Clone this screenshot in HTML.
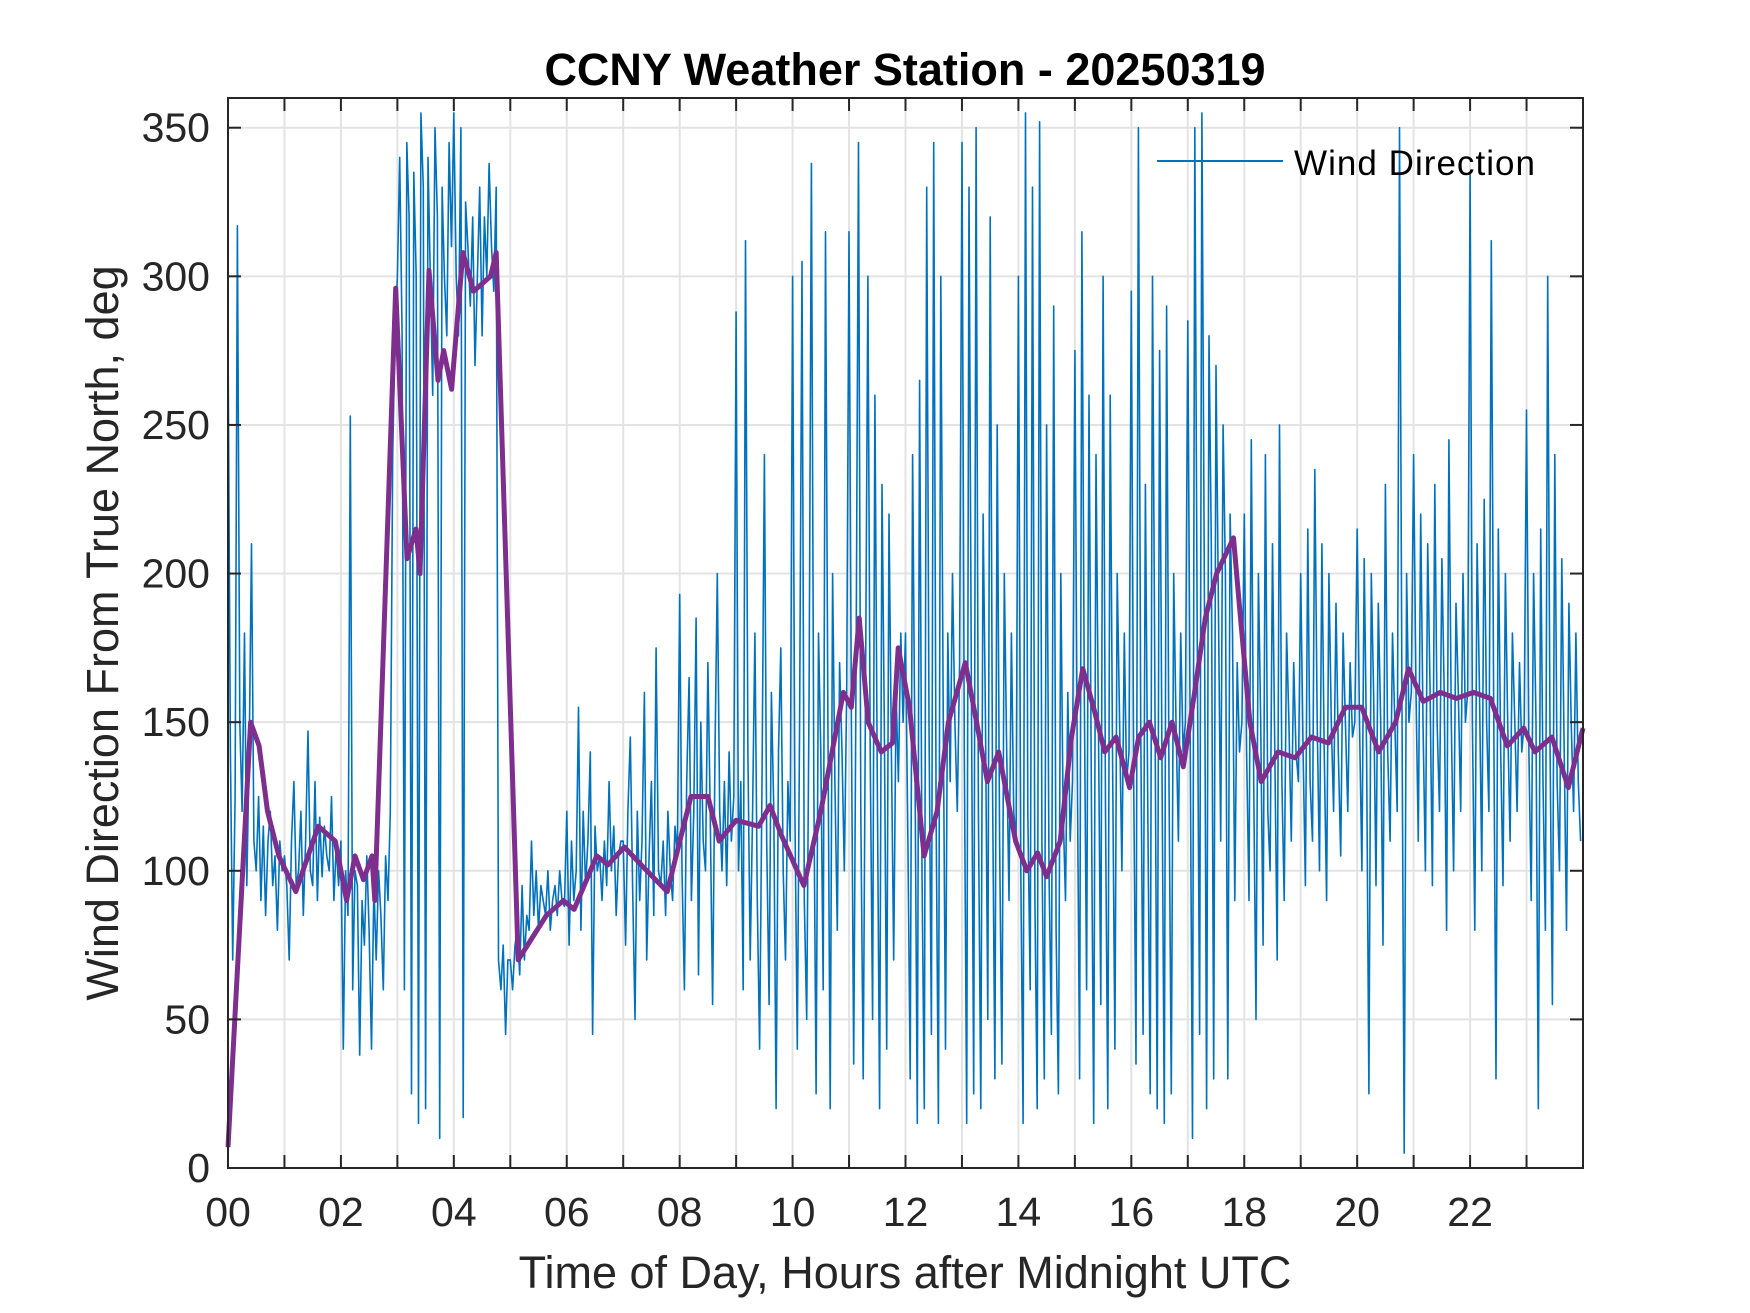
<!DOCTYPE html>
<html><head><meta charset="utf-8"><style>
html,body{margin:0;padding:0;background:#fff;}
svg{display:block;font-family:"Liberation Sans",Arial,sans-serif;}
</style></head><body>
<svg id="chart" width="1750" height="1313" viewBox="0 0 1750 1313">
<rect width="1750" height="1313" fill="#fff"/>
<g id="grid"></g>
<g id="series"></g>
<g id="axes"></g>
<text x="905" y="85" text-anchor="middle" font-size="45" font-weight="bold" fill="#000">CCNY Weather Station - 20250319</text>
<text x="905" y="1288" text-anchor="middle" font-size="45" fill="#262626">Time of Day, Hours after Midnight UTC</text>
<text transform="translate(118,633) rotate(-90)" text-anchor="middle" font-size="45" fill="#262626">Wind Direction From True North, deg</text>
<g>
<line x1="1157" y1="161" x2="1283" y2="161" stroke="#0072BD" stroke-width="2"/>
<text x="1294" y="175" font-size="35" fill="#000" textLength="241">Wind Direction</text>
</g>
</svg>
<script>
const xTicks = [0,1,2,3,4,5,6,7,8,9,10,11,12,13,14,15,16,17,18,19,20,21,22,23,24];
const xTickLabels = ["00","","02","","04","","06","","08","","10","","12","","14","","16","","18","","20","","22","",""];
const yTicks = [0,50,100,150,200,250,300,350];
const yTickLabels = ["0","50","100","150","200","250","300","350"];
// raw wind direction, 24 samples per hour
const windRaw = [
280,140,70,125,317,150,120,180,95,140,210,110,100,125,90,115,85,110,120,95,105,80,110,100,
105,95,70,110,130,95,100,120,85,110,147,100,95,130,90,118,98,115,105,100,125,90,108,95,
110,40,100,85,253,60,100,95,38,90,75,105,80,40,95,70,100,85,60,105,90,120,240,280,
300,340,280,60,345,320,25,335,300,15,355,330,20,340,300,260,350,320,10,330,300,280,345,310,
355,300,280,350,17,325,310,290,320,270,300,330,280,320,300,338,310,295,330,70,60,75,45,70,
70,60,75,80,65,95,70,85,80,110,85,100,80,95,90,85,100,80,90,95,85,100,90,88,
120,75,110,90,100,155,80,120,95,110,140,45,115,100,105,90,110,95,130,100,115,85,105,110,
110,75,120,145,95,50,120,90,110,160,70,105,130,85,175,100,95,110,85,120,100,90,115,105,
193,100,60,130,165,90,120,185,65,150,110,100,170,120,55,140,200,120,100,130,95,140,110,125,
288,100,130,60,312,140,70,120,180,90,40,130,240,110,55,160,120,20,140,175,100,70,130,110,
300,120,40,150,305,90,50,160,338,130,25,180,140,60,315,150,20,200,130,80,170,140,100,160,
315,150,35,170,345,120,30,160,300,140,50,260,130,20,230,150,40,220,140,70,160,130,180,150,
180,110,30,240,140,15,265,100,20,330,150,45,345,120,15,300,160,40,180,130,200,150,120,170,
345,140,15,330,160,25,350,120,20,220,150,50,320,130,30,250,110,35,200,140,90,180,120,110,
300,100,15,355,120,60,330,90,20,352,110,30,250,100,45,290,80,25,200,120,90,160,110,130,
275,140,30,315,160,60,260,130,15,240,150,55,300,120,20,260,140,40,200,150,100,180,130,140,
295,130,35,350,150,45,230,120,25,300,160,20,275,140,15,290,130,25,200,150,110,180,140,150,
285,150,10,350,180,45,355,200,20,280,210,30,270,190,110,250,200,30,220,180,90,170,140,150,
220,140,90,245,130,50,200,150,75,240,120,100,210,140,70,250,130,90,180,150,110,170,140,130,
200,140,95,215,130,110,235,150,100,210,140,90,200,150,120,190,140,105,180,150,120,170,145,150,
215,150,100,205,140,25,200,160,95,190,150,75,230,140,110,180,150,120,350,160,5,200,150,160,
240,160,110,220,150,100,210,160,95,230,150,120,205,160,80,245,150,100,190,160,120,200,150,160,
335,150,80,210,160,100,225,150,120,312,160,30,215,140,95,200,150,110,180,150,120,170,140,150,
255,140,90,200,150,20,215,130,80,300,140,55,240,130,100,205,140,80,190,150,120,180,130,110
];
const smoothHours = [0,0.4,0.55,0.7,0.9,1.2,1.6,1.9,2.1,2.25,2.4,2.55,2.6,2.97,3.17,3.33,3.4,3.56,3.72,3.82,3.96,4.16,4.35,4.65,4.75,5.14,5.64,5.94,6.13,6.53,6.73,7.02,7.42,7.78,8.2,8.5,8.7,9.0,9.4,9.6,9.8,10.2,10.5,10.7,10.9,11.04,11.18,11.34,11.57,11.77,11.87,12.07,12.33,12.56,12.76,13.06,13.26,13.45,13.65,13.95,14.15,14.34,14.5,14.74,14.94,15.14,15.33,15.53,15.73,15.97,16.13,16.32,16.52,16.72,16.92,17.12,17.31,17.51,17.81,17.91,18.1,18.3,18.6,18.9,19.19,19.49,19.79,20.08,20.38,20.68,20.91,21.17,21.47,21.76,22.06,22.36,22.66,22.95,23.15,23.45,23.74,24.0];
const smoothValues = [7,150,142,120,105,93,115,110,90,105,97,105,90,296,205,215,200,302,265,275,262,308,295,300,308,70,85,90,87,105,102,108,100,93,125,125,110,117,115,122,112,95,120,140,160,155,185,150,140,143,175,155,105,120,150,170,150,130,140,110,100,106,98,110,145,168,155,140,145,128,145,150,138,150,135,160,185,200,212,190,150,130,140,138,145,143,155,155,140,150,168,157,160,158,160,158,142,148,140,145,128,148];

const X0=228, X1=1583, Y0=1168, Y1=98, XMAX=24, YMAX=360;
function xs(h){return X0+(X1-X0)*h/XMAX;}
function ys(v){return Y0-(Y0-Y1)*v/YMAX;}
const NS="http://www.w3.org/2000/svg";
function mk(tag,attrs,parent){const e=document.createElementNS(NS,tag);for(const k in attrs)e.setAttribute(k,attrs[k]);parent.appendChild(e);return e;}
const grid=document.getElementById('grid'), series=document.getElementById('series'), axes=document.getElementById('axes');

xTicks.forEach((t,i)=>{
  const x=xs(t);
  const g=mk('line',{x1:x,y1:Y1,x2:x,y2:Y0,stroke:'#e3e3e3','stroke-width':2},grid);
  
  
  const tb=mk('line',{x1:x,y1:Y0,x2:x,y2:Y0-13,stroke:'#262626','stroke-width':2},axes);
  
  
  const tt=mk('line',{x1:x,y1:Y1,x2:x,y2:Y1+13,stroke:'#262626','stroke-width':2},axes);
  
  
  if(xTickLabels[i]){
    const l=mk('text',{x:x,y:1226,'text-anchor':'middle','font-size':41,fill:'#262626'},axes);
    l.textContent=xTickLabels[i];
    
    
  }
});
yTicks.forEach((t,i)=>{
  const y=ys(t);
  const g=mk('line',{x1:X0,y1:y,x2:X1,y2:y,stroke:'#e3e3e3','stroke-width':2},grid);
  
  
  const tl=mk('line',{x1:X0,y1:y,x2:X0+13,y2:y,stroke:'#262626','stroke-width':2},axes);
  
  
  const tr=mk('line',{x1:X1,y1:y,x2:X1-13,y2:y,stroke:'#262626','stroke-width':2},axes);
  
  
  const l=mk('text',{x:210,y:y+14,'text-anchor':'end','font-size':41,fill:'#262626'},axes);
  l.textContent=yTickLabels[i];
  
  
});
const box=mk('rect',{x:X0,y:Y1,width:X1-X0,height:Y0-Y1,fill:'none',stroke:'#262626','stroke-width':2},axes);



const rawPts=windRaw.map((v,i)=>xs(i*XMAX/windRaw.length).toFixed(1)+','+ys(v).toFixed(1)).join(' ');
const raw=mk('polyline',{points:rawPts,fill:'none',stroke:'#0072BD','stroke-width':1.6,'stroke-linejoin':'round'},series);



const smPts=smoothHours.map((h,i)=>xs(h).toFixed(1)+','+ys(smoothValues[i]).toFixed(1)).join(' ');
const sm=mk('polyline',{points:smPts,fill:'none',stroke:'#7E2F8E','stroke-width':5,'stroke-linejoin':'round'},series);


</script>
</body></html>
